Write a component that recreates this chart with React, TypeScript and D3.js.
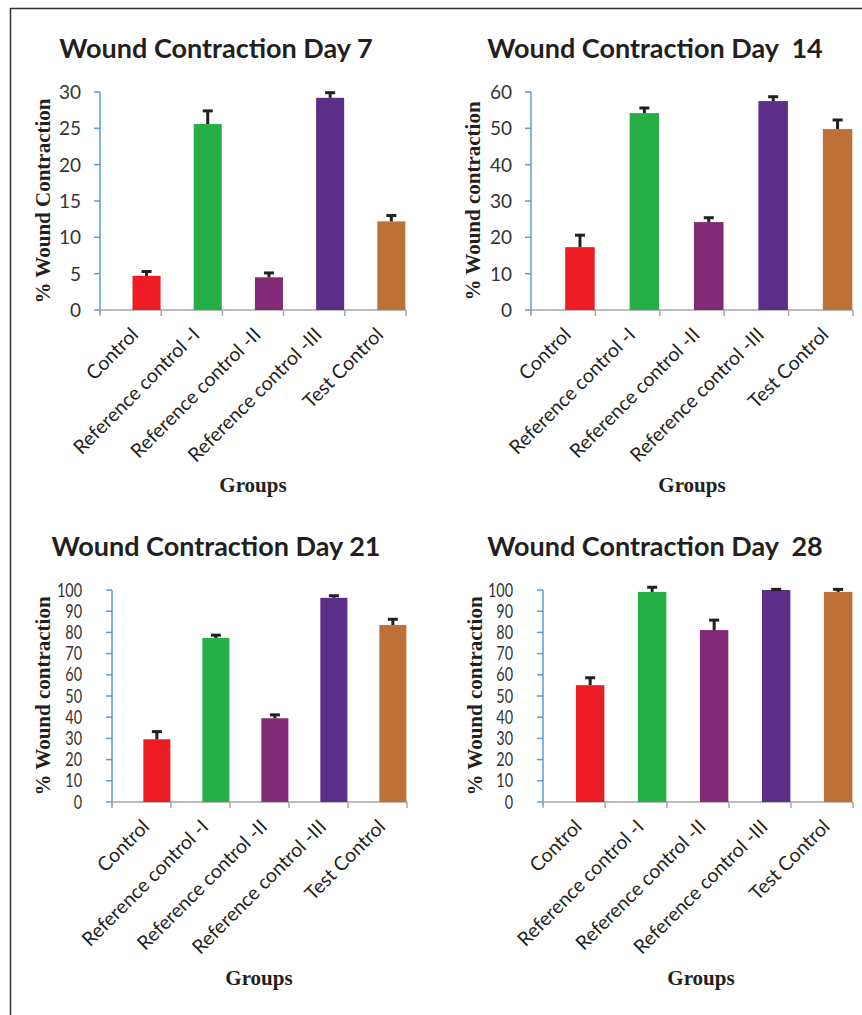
import React from 'react';
import * as d3 from 'd3';

// groups on the x axis
const groups = [
  'Control',
  'Reference control -I',
  'Reference control -II',
  'Reference control -III',
  'Test Control'
];
const barColors = ['#ed1c24', '#27ae47', '#832a77', '#5b2e88', '#bd7139'];

// % wound contraction (mean) and upper error per day
const day7Values = [4.7, 25.6, 4.5, 29.2, 12.2];
const day7Errors = [0.6, 1.8, 0.6, 0.7, 0.8];
const day14Values = [17.3, 54.2, 24.2, 57.5, 49.8];
const day14Errors = [3.3, 1.4, 1.2, 1.2, 2.5];
const day21Values = [29.6, 77.4, 39.5, 96.3, 83.5];
const day21Errors = [3.6, 1.3, 1.6, 1.0, 2.7];
const day28Values = [55.1, 99.1, 81.1, 100, 99.1];
const day28Errors = [3.5, 2.2, 4.7, 0.3, 1.2];

const titles = [
  'Wound Contraction Day 7',
  'Wound Contraction Day  14',
  'Wound Contraction Day 21',
  'Wound Contraction Day  28'
];
const yLabels = [
  '% Wound Contraction',
  '% Wound contraction',
  '% Wound contraction',
  '% Wound contraction'
];
const yMax = [30, 60, 100, 100];
const yStep = [5, 10, 10, 10];
const xTitle = 'Groups';

// panel layout (pixels)
const layouts = [
  { x0: 100, x1: 406, yTop: 92, yBottom: 310, tickRight: 81, tickSize: 19, tickScale: 1, titleX: 216, titleY: 58, yLabelX: 43, groupsX: 253, groupsY: 492 },
  { x0: 531, x1: 853, yTop: 92, yBottom: 310, tickRight: 512, tickSize: 19, tickScale: 1, titleX: 655, titleY: 58, yLabelX: 473, groupsX: 692, groupsY: 492 },
  { x0: 112, x1: 407, yTop: 590, yBottom: 802, tickRight: 82, tickSize: 18.5, tickScale: 0.78, titleX: 216, titleY: 556, yLabelX: 43, groupsX: 259, groupsY: 985 },
  { x0: 543, x1: 853, yTop: 590, yBottom: 802, tickRight: 513, tickSize: 18.5, tickScale: 0.78, titleX: 655, titleY: 556, yLabelX: 475, groupsX: 701, groupsY: 985 }
];

const sans = 'Lato, "Open Sans", sans-serif';
const serif = '"Liberation Serif", "Times New Roman", serif';

interface PanelProps {
  title: string;
  yLabel: string;
  values: number[];
  errors: number[];
  max: number;
  step: number;
  layout: typeof layouts[number];
}

function Panel({ title, yLabel, values, errors, max, step, layout }: PanelProps) {
  const { x0, x1, yTop, yBottom } = layout;
  const x = d3.scaleBand<string>().domain(groups).range([x0, x1]);
  // Excel style cluster: an empty slot then the bar
  const sub = d3.scaleBand<string>()
    .domain(['gap', 'bar'])
    .range([0, x.bandwidth()])
    .paddingInner(0.12)
    .paddingOuter(0.02);
  const y = d3.scaleLinear().domain([0, max]).range([yBottom, yTop]);
  const ticks = d3.range(0, max + step / 2, step);
  const bw = sub.bandwidth();

  return (
    <g>
      <text
        x={layout.titleX}
        y={layout.titleY}
        textAnchor="middle"
        fontFamily={sans}
        fontWeight={700}
        fontSize={27}
        fill="#231f20"
        style={{ whiteSpace: 'pre' }}
      >
        {title}
      </text>

      {/* y axis */}
      <line x1={x0} x2={x0} y1={yTop} y2={yBottom + 4} stroke="#5b9bd5" strokeWidth={1.5} />
      {ticks.map(t => (
        <g key={t}>
          <line x1={x0 - 6} x2={x0} y1={y(t)} y2={y(t)} stroke="#5b9bd5" strokeWidth={1.5} />
          <text
            transform={`translate(${layout.tickRight},${y(t)}) scale(${layout.tickScale},1)`}
            dy="0.36em"
            textAnchor="end"
            fontFamily={sans}
            fontSize={layout.tickSize}
            fill="#333"
          >
            {t}
          </text>
        </g>
      ))}

      {/* x axis */}
      <line x1={x0} x2={x1} y1={yBottom} y2={yBottom} stroke="#a6a6a6" strokeWidth={1.5} />
      {[...groups.map(g => x(g) as number), x1].map((px, i) => (
        <line key={i} x1={px} x2={px} y1={yBottom} y2={yBottom + 6} stroke="#a6a6a6" strokeWidth={1.5} />
      ))}

      {/* bars and error bars */}
      {groups.map((g, i) => {
        const bx = (x(g) as number) + (sub('bar') as number);
        const cx = bx + bw / 2;
        const top = y(values[i] + errors[i]);
        return (
          <g key={g}>
            <rect x={bx} y={y(values[i])} width={bw} height={yBottom - y(values[i])} fill={barColors[i]} />
            <line x1={cx} x2={cx} y1={y(values[i])} y2={top} stroke="#231f20" strokeWidth={3} />
            <line x1={cx - 5} x2={cx + 5} y1={top} y2={top} stroke="#231f20" strokeWidth={3} />
          </g>
        );
      })}

      {/* category labels */}
      {groups.map(g => {
        const cx = (x(g) as number) + x.bandwidth() / 2 + 9;
        const cy = yBottom + 26;
        return (
          <text
            key={g}
            transform={`translate(${cx},${cy}) rotate(-45)`}
            textAnchor="end"
            fontFamily={sans}
            fontSize={19.5}
            fill="#231f20"
          >
            {g}
          </text>
        );
      })}

      <text
        transform={`translate(${layout.yLabelX},${(yTop + yBottom) / 2}) rotate(-90)`}
        textAnchor="middle"
        dy="0.35em"
        fontFamily={serif}
        fontWeight={700}
        fontSize={21}
        fill="#231f20"
      >
        {yLabel}
      </text>
      <text
        x={layout.groupsX}
        y={layout.groupsY}
        textAnchor="middle"
        fontFamily={serif}
        fontWeight={700}
        fontSize={21}
        fill="#231f20"
      >
        {xTitle}
      </text>
    </g>
  );
}

export default function App() {
  const values = [day7Values, day14Values, day21Values, day28Values];
  const errors = [day7Errors, day14Errors, day21Errors, day28Errors];
  return (
    <svg
      width={862}
      height={1015}
      style={{ position: 'absolute', left: 0, top: 0, background: '#fff' }}
    >
      <rect width={862} height={1015} fill="#fff" />
      <path d="M10.5,1015 V8.5 H862" fill="none" stroke="#333" strokeWidth={1.5} />
      {titles.map((t, i) => (
        <Panel
          key={t}
          title={t}
          yLabel={yLabels[i]}
          values={values[i]}
          errors={errors[i]}
          max={yMax[i]}
          step={yStep[i]}
          layout={layouts[i]}
        />
      ))}
    </svg>
  );
}
